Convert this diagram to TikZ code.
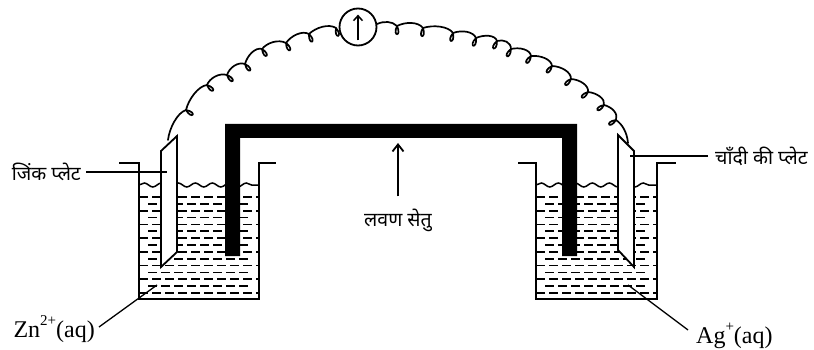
\documentclass[tikz,border=0pt]{standalone}
\usepackage{fontspec}
\setmainfont{Liberation Serif}
\newfontfamily\hindi[Script=Devanagari]{Noto Sans}
\usetikzlibrary{arrows.meta,calc,decorations.pathmorphing}
\tikzset{
  vessel/.style={line width=2pt,line join=miter},
  plate/.style={draw,line width=1.8pt,fill=white,line join=miter},
  water/.style={line width=1.5pt,decorate,decoration={snake,amplitude=2pt,segment length=17pt}},
  dashrow/.style={line width=1.6pt,dash pattern=on 9pt off 4pt},
  wire/.style={line width=1.7pt,line cap=round},
  leader/.style={line width=1.3pt},
  meter/.style={draw,circle,line width=1.8pt,fill=white,minimum size=37pt,inner sep=0pt},
  hilabel/.style={font=\hindi\fontsize{19.5}{20}\selectfont,inner sep=0pt},
  enlabel/.style={font=\fontsize{24}{24}\selectfont,inner sep=0pt},
}

\begin{document}
\begin{tikzpicture}[x=1pt,y=-1pt]
  \useasboundingbox (0,0) rectangle (814,350);
  % liquid in both vessels
  \foreach \bx in {139,536} {
    \draw[water] (\bx,185) -- (\bx+120.5,185);
    \foreach \ry in {197,210.7,224.4,238.1,251.8,265.5,279.2,293}
      \draw[dashrow] (\bx,\ry) -- (\bx+120.5,\ry);
    \foreach \ry in {203.8,217.5,231.2,245,258.7,272.4,286.1}
      \draw[dashrow] (\bx+9,\ry) -- (\bx+110,\ry);
  }
  % plates
  \draw[plate] (161,151) -- (177,136) -- (177,252) -- (161,267) -- cycle;
  \draw[plate] (618,135) -- (634,151) -- (634,267) -- (618,250) -- cycle;
  % vessels
  \draw[vessel] (119,163) -- (139,163) -- (139,299) -- (259,299) -- (259,163) -- (276,163);
  \draw[vessel] (518,163) -- (536,163) -- (536,299) -- (657,299) -- (657,163) -- (676,163);
  % bridge
  \fill (225,124) -- (577,124) -- (577,256) -- (562,256) -- (562,138) -- (240,138) -- (240,256) -- (225,256) -- cycle;
  % meter and wire
  \foreach \x/\y [remember=\x as \lx (initially 168),remember=\y as \ly (initially 140)] in
      {186/110,207/85,227/75,245/64,262/49,286/43,309/34,336/28,
       397/26,423/28,453/33,476/38,497/41,511/49,531/56,552/66,571/79,588/92,604/105,616/120} {
    \pgfmathsetmacro\ang{atan2(260-\y,398-\x)}
    \ifnum\x=397
      \draw[wire] (377,24) .. controls (384,21) and (392,21) .. (\x,\y);
    \else
      \draw[wire] (\lx,\ly) .. controls ($(\lx,\ly)!.3!(\x,\y)+(\ang+180:5)$) and ($(\lx,\ly)!.8!(\x,\y)+(\ang+180:6)$) .. (\x,\y);
    \fi
    \draw[wire] (\x,\y) .. controls +(\ang+25:12) and +(\ang-25:12) .. (\x,\y);
  }
  \draw[wire] (616,120) .. controls (622,124) and (627,132) .. (628,143);
  \node[meter] (galvo) at (358,27) {};
  \draw[line width=1.5pt,-{Straight Barb[length=5pt,width=9pt]}] ([yshift=6pt]galvo.south) -- ([yshift=-7pt]galvo.north);
  % labels
  \node[hilabel,anchor=east] (zincl) at (81,172) {जिंक प्लेट};
  \node[hilabel,anchor=west] (silverl) at (715,156) {चाँदी की प्लेट};
  \node[hilabel] (bridgel) at (398,220) {लवण सेतु};
  \node[enlabel,anchor=east] (zn) at (95,329) {Zn\raisebox{12pt}{\fontsize{15}{15}\selectfont 2+}(aq)};
  \node[enlabel,anchor=west] (ag) at (696,336) {Ag\raisebox{12pt}{\fontsize{15}{15}\selectfont +}(aq)};
  \coordinate (zinctip) at (167,172);
  \coordinate (silvertip) at (630,156);
  \coordinate (zntip) at (157,285);
  \coordinate (agtip) at (628,285);
  \coordinate (bridgetip) at (398,143);
  \draw[leader] (zincl.east) ++(5,0) -- (zinctip);
  \draw[leader] (silverl.west) ++(-7,0) -- (silvertip);
  \draw[leader] (zn.east) ++(4,-2) -- (zntip);
  \draw[leader] (ag.west) ++(-8,-6) -- (agtip);
  \draw[line width=1.8pt,-{Straight Barb[length=7pt,width=11pt]}] (bridgel.north) ++(0,-12) -- (bridgetip);
\end{tikzpicture}
\end{document}
